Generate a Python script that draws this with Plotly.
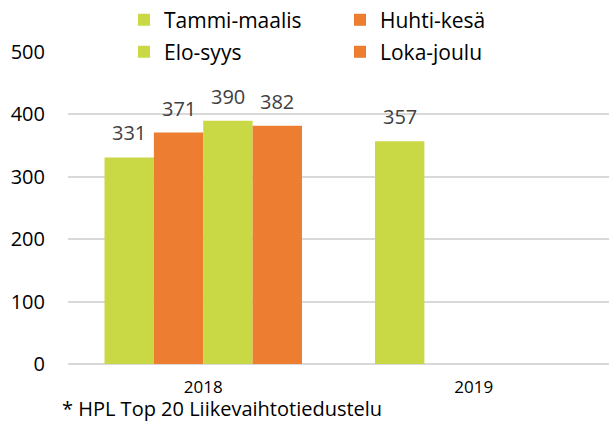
import plotly.graph_objects as go

categories = ["2018", "2019"]
series_names = ["Tammi-maalis", "Huhti-kesä", "Elo-syys", "Loka-joulu"]
values = {
    "Tammi-maalis": [331, 357],
    "Huhti-kesä": [371, None],
    "Elo-syys": [390, None],
    "Loka-joulu": [382, None],
}
colors = {
    "Tammi-maalis": "#C9D845",
    "Huhti-kesä": "#ED7D31",
    "Elo-syys": "#C9D845",
    "Loka-joulu": "#ED7D31",
}
legend_rows = {"Tammi-maalis": "legend", "Huhti-kesä": "legend",
               "Elo-syys": "legend2", "Loka-joulu": "legend2"}
y_ticks = [0, 100, 200, 300, 400, 500]
footnote = "* HPL Top 20 Liikevaihtotiedustelu"

FONT = "Open Sans"
W, H = 609, 423
L, T, R = 68, 52, 0
B = H - 364
PW, PH = W - L - R, H - T - B
BARGAP = 0.27
n = len(series_names)
bw = (1 - BARGAP) / n

fig = go.Figure()
annotations = []
for i, name in enumerate(series_names):
    vals = values[name]
    fig.add_trace(go.Bar(
        x=categories, y=vals, name=name,
        marker=dict(color=colors[name], line=dict(width=0)),
        legend=legend_rows[name],
        hoverinfo="skip",
    ))
    for ci, v in enumerate(vals):
        if v is None:
            continue
        annotations.append(dict(
            x=ci + (i - (n - 1) / 2) * bw, y=v, xref="x", yref="y",
            text=str(v), showarrow=False, xanchor="center", yanchor="bottom",
            yshift=9, font=dict(family=FONT, size=20, color="#404040"),
        ))

annotations.append(dict(
    text=footnote, xref="paper", yref="paper",
    x=(60 - L) / PW, y=(H - B - 408.5) / PH,
    xanchor="left", yanchor="middle",
    showarrow=False, font=dict(family=FONT, size=20, color="#000000"),
))

leg_common = dict(
    orientation="h", xref="container", x=124 / W, xanchor="left",
    yref="container", yanchor="middle",
    entrywidth=171, entrywidthmode="pixels",
    font=dict(family=FONT, size=21, color="#000000"),
    bgcolor="rgba(0,0,0,0)", traceorder="normal",
)

fig.update_layout(
    width=W, height=H,
    margin=dict(l=L, r=R, t=T, b=B, autoexpand=False),
    paper_bgcolor="white", plot_bgcolor="white",
    barmode="group", bargap=BARGAP, bargroupgap=0,
    font=dict(family=FONT, color="#000000"),
    showlegend=True,
    legend=dict(leg_common, y=1 - 20 / H),
    legend2=dict(leg_common, y=1 - 52 / H),
    xaxis=dict(
        showgrid=False, showline=False, ticks="",
        tickfont=dict(family=FONT, size=17, color="#000000"),
        ticklabelstandoff=11,
    ),
    yaxis=dict(
        range=[0, 500], tickvals=y_ticks,
        showgrid=True, gridcolor="#D9D9D9", gridwidth=1.5,
        zeroline=True, zerolinecolor="#D9D9D9", zerolinewidth=1.5,
        showline=False, ticks="",
        tickfont=dict(family=FONT, size=20, color="#000000"),
        ticklabelstandoff=22,
    ),
    annotations=annotations,
)

fig.write_html("out.html", config={"displayModeBar": False},
               post_script="document.body.style.margin='0';")
